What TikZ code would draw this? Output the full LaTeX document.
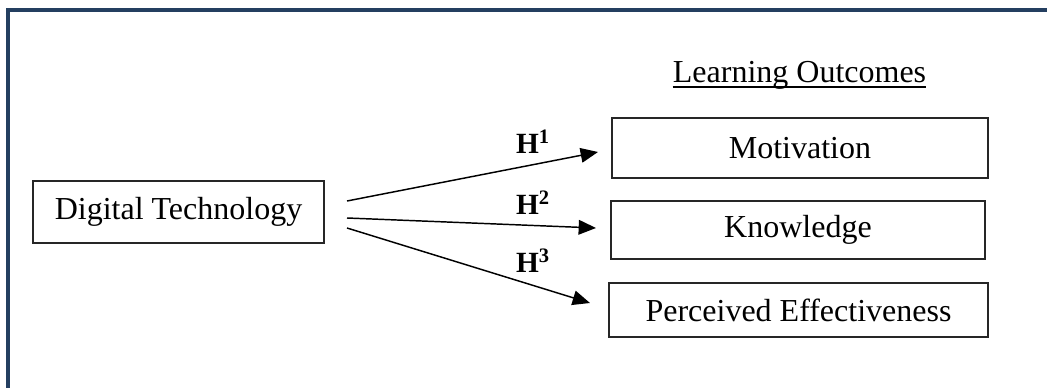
\documentclass[tikz,border=0pt]{standalone}
\usepackage{fontspec}
\setmainfont{Liberation Serif}
\usetikzlibrary{arrows.meta}
\definecolor{frameblue}{RGB}{36,63,96}
\tikzset{
  box/.style={draw=black!85, line width=1.1pt, inner sep=0pt, align=center,
    font=\fontsize{24}{28}\selectfont},
  hlabel/.style={inner sep=0pt, font=\fontsize{22}{26}\selectfont\bfseries},
  arr/.style={line width=1.1pt, -{Triangle[length=13pt,width=11pt]}}
}
\begin{document}
\begin{tikzpicture}[x=0.75pt,y=-0.75pt]
\useasboundingbox (0,0) rectangle (1047,388);
% outer frame (only top and left edges visible)
\draw[frameblue, line width=2.3pt] (8,400) -- (8,10) -- (1060,10);

\node[box, minimum width=218.25pt, minimum height=46.5pt] (dt) at (178.5,212) {Digital Technology};
\node[box, minimum width=282pt, minimum height=45pt] (mot) at (800,148) {Motivation};
\node[box, minimum width=280.5pt, minimum height=43.5pt] (kno) at (798,230) {Knowledge};
\node[box, minimum width=284.25pt, minimum height=40.5pt] (per) at (798.5,310) {Perceived Effectiveness};

\node[inner sep=0pt, anchor=base, font=\fontsize{24}{28}\selectfont] (lo) at (799.5,83) {Learning Outcomes};
\draw[line width=1.1pt] ([yshift=-3pt]lo.base west) -- ([yshift=-3pt]lo.base east);

\coordinate (s1) at (347,201);
\coordinate (s2) at (347,218);
\coordinate (s3) at (347,228);
\coordinate (t1) at (598,152);
\coordinate (t2) at (596,228);
\coordinate (t3) at (590,303);
\draw[arr] (s1) -- (t1);
\draw[arr] (s2) -- (t2);
\draw[arr] (s3) -- (t3);

\node[hlabel] (h1) at (533,142) {H\textsuperscript{1}};
\node[hlabel] (h2) at (533,203) {H\textsuperscript{2}};
\node[hlabel] (h3) at (533,261) {H\textsuperscript{3}};
\end{tikzpicture}
\end{document}
